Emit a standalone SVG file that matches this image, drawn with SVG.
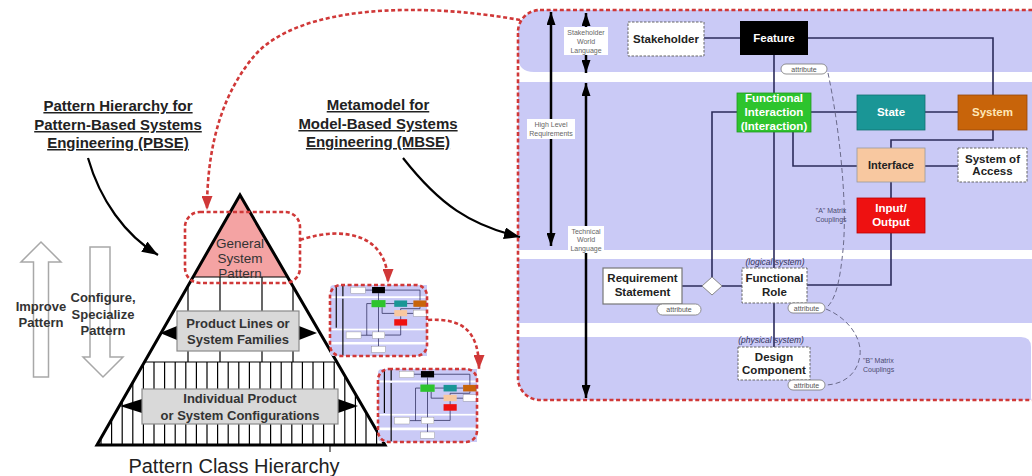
<svg xmlns="http://www.w3.org/2000/svg" width="1032" height="476" viewBox="0 0 1032 476">
<style>
text{font-family:"Liberation Sans",Arial,sans-serif}
.ttl{font-size:15px;font-weight:bold;fill:#222;text-anchor:middle;text-decoration:underline}
.nb{font-size:11.5px;font-weight:bold;text-anchor:middle;fill:#222}
.nw{font-size:11.5px;font-weight:bold;text-anchor:middle;fill:#fff}
.ax{font-size:7px;fill:#666;text-anchor:middle}
.pt{font-size:7px;fill:#555;text-anchor:middle}
.cp{font-size:7px;fill:#4a4a70}
.it{font-size:8.5px;font-style:italic;fill:#33335a;text-anchor:middle}
.pb{font-size:13px;font-weight:bold;fill:#333;text-anchor:middle}
.conn{stroke:#2b2b5a;stroke-width:1.6;fill:none}
.cpl{stroke:#6a6a8a;stroke-width:1;fill:none;stroke-dasharray:5 3}
.rd{stroke:#d03838;stroke-width:2.6;fill:none;stroke-dasharray:4 2.6}
.band{fill:#cacaf6}
.pill{fill:#fff;stroke:#777;stroke-width:0.8}
.dash{fill:#fff;stroke:#666;stroke-width:1;stroke-dasharray:2.5 1.5}
.axl{stroke:#000;stroke-width:2.5;fill:none}
.hol{fill:#fff;stroke:#a8a8a8;stroke-width:1.5}
.gbox{fill:#d9d9d9;stroke:#8a8a8a;stroke-width:1.2}
</style>
<defs>
<marker id="ak" viewBox="0 0 10 10" refX="10" refY="5" markerWidth="13" markerHeight="9" markerUnits="userSpaceOnUse" orient="auto-start-reverse" preserveAspectRatio="none"><path d="M0,0L10,5L0,10Z" fill="#000"/></marker>
<marker id="ab" viewBox="0 0 10 10" refX="10" refY="5" markerWidth="16" markerHeight="12" markerUnits="userSpaceOnUse" orient="auto" preserveAspectRatio="none"><path d="M0,0L10,5L0,10Z" fill="#000"/></marker>
<marker id="ar" viewBox="0 0 10 10" refX="10" refY="5" markerWidth="14" markerHeight="11" markerUnits="userSpaceOnUse" orient="auto" preserveAspectRatio="none"><path d="M0,0L10,5L0,10Z" fill="#d03838"/></marker>
<clipPath id="pc"><rect x="518" y="10" width="540" height="390" rx="22"/></clipPath>
<clipPath id="pyr"><polygon points="240,195 97,445 385,445"/></clipPath>
<g id="mini">
<rect x="518" y="10" width="512" height="390" rx="22" fill="#fff"/>
<path d="M540,10H1030V72H518V32Q518,10 540,10Z" class="band"/>
<rect x="518" y="82" width="512" height="168" class="band"/>
<rect x="518" y="259" width="512" height="64" class="band"/>
<path d="M518,337H1030V400H540Q518,400 518,378Z" class="band"/>
<path d="M704,38H993V95M774,55V347M811,112H958M993,130V140H891V233M793,132V166H958M891,233V285H807M737,112H712V286M682,286H742" stroke="#2b2b5a" stroke-width="4" fill="none"/>
<path d="M551,15V245M586,15V72M586,85V396" stroke="#000" stroke-width="6"/>
<rect x="628" y="22" width="76" height="34" fill="#fff" stroke="#888" stroke-width="2"/>
<rect x="740" y="21" width="68" height="34" fill="#000"/>
<rect x="737" y="93" width="74" height="39" fill="#2dc42d"/>
<rect x="857" y="95" width="68" height="35" fill="#1a9696"/>
<rect x="958" y="95" width="69" height="35" fill="#c8640a"/>
<rect x="857" y="148" width="68" height="34" fill="#f8c8a0"/>
<rect x="958" y="148" width="69" height="34" fill="#fff" stroke="#888" stroke-width="2"/>
<rect x="857" y="198" width="68" height="35" fill="#ee1111"/>
<rect x="603" y="268" width="79" height="36" fill="#fff" stroke="#888" stroke-width="2"/>
<rect x="742" y="268" width="65" height="35" fill="#fff" stroke="#888" stroke-width="2"/>
<rect x="738" y="347" width="72" height="33" fill="#fff" stroke="#888" stroke-width="2"/>
</g>
</defs>

<!-- Left titles -->
<g id="title-pbse">
<text class="ttl" x="118" y="111">Pattern Hierarchy for</text>
<text class="ttl" x="118" y="130">Pattern-Based Systems</text>
<text class="ttl" x="118" y="148">Engineering (PBSE)</text>
</g>
<g id="title-mbse">
<text class="ttl" x="378" y="110">Metamodel for</text>
<text class="ttl" x="378" y="129">Model-Based Systems</text>
<text class="ttl" x="378" y="147">Engineering (MBSE)</text>
</g>

<!-- Hollow arrows -->
<g id="improve-pattern">
<polygon class="hol" points="33.5,377 33.5,262 21,262 41,242 61,262 48.5,262 48.5,377"/>
<text class="pb" x="41" y="311">Improve</text>
<text class="pb" x="41" y="327">Pattern</text>
</g>
<g id="configure-pattern">
<polygon class="hol" points="90,247 110,247 110,357 123,357 103,377 83,357 90,357"/>
<text class="pb" x="103" y="302">Configure,</text>
<text class="pb" x="103" y="319">Specialize</text>
<text class="pb" x="103" y="335">Pattern</text>
</g>

<!-- Pyramid -->
<g id="pyramid">
<polygon points="240,195 193,277 287,277" fill="#f4a3a3"/>
<g clip-path="url(#pyr)" stroke="#000" stroke-width="1.2" fill="none">
<path d="M90,277H390M90,362H390"/>
<path d="M188,277V362M220,277V362M262,277V362M293,277V362"/>
<path d="M101,362V445M111.6,362V445M122.2,362V445M132.8,362V445M143.4,362V445M154,362V445M164.6,362V445M175.2,362V445M185.8,362V445M196.4,362V445M207,362V445M217.6,362V445M228.2,362V445M238.8,362V445M249.4,362V445M260,362V445M270.6,362V445M281.2,362V445M291.8,362V445M302.4,362V445M313,362V445M323.6,362V445M334.2,362V445M344.8,362V445M355.4,362V445M366,362V445M376.6,362V445"/>
</g>
<polygon points="240,195 97,445 385,445" fill="none" stroke="#000" stroke-width="3" stroke-linejoin="miter"/>
<line x1="330" y1="445" x2="330" y2="452" stroke="#000" stroke-width="1"/>
</g>
<g id="general-system-pattern">
<text x="240" y="248" font-size="13.5" fill="#333" text-anchor="middle">General</text>
<text x="240" y="263" font-size="13.5" fill="#333" text-anchor="middle">System</text>
<text x="240" y="278" font-size="13.5" fill="#333" text-anchor="middle">Pattern</text>
</g>
<g id="product-lines">
<polygon points="177,326 177,340 160,333" fill="#000"/>
<polygon points="299,326 299,340 317,333" fill="#000"/>
<rect class="gbox" x="177" y="311" width="122" height="40"/>
<text class="pb" x="238" y="328">Product Lines or</text>
<text class="pb" x="238" y="344">System Families</text>
</g>
<g id="individual-product">
<polygon points="142,399 142,413 120,406" fill="#000"/>
<polygon points="338,399 338,413 358,406" fill="#000"/>
<rect class="gbox" x="142" y="389" width="196" height="35"/>
<text class="pb" x="240" y="403">Individual Product</text>
<text class="pb" x="240" y="420">or System Configurations</text>
</g>
<text id="pyramid-caption" x="234" y="473" font-size="20" fill="#222" text-anchor="middle">Pattern Class Hierarchy</text>

<!-- Red dashed highlight and thumbnails -->
<rect id="gsp-highlight" class="rd" x="185" y="212" width="115" height="71" rx="15"/>
<g id="thumb-1">
<use href="#mini" transform="translate(330,285) scale(0.1895,0.182) translate(-518,-10)"/>
<rect class="rd" x="330" y="285" width="97" height="71" rx="11"/>
</g>
<g id="thumb-2">
<use href="#mini" transform="translate(378,369) scale(0.1934,0.187) translate(-518,-10)"/>
<rect class="rd" x="378" y="369" width="99" height="73" rx="11"/>
</g>

<!-- Big MBSE panel -->
<g id="mbse-panel">
<g clip-path="url(#pc)">
<rect x="518" y="10" width="540" height="390" fill="#fff"/>
<path d="M518,10H1040V72H534Q518,72 518,56Z" class="band"/>
<rect x="518" y="82" width="522" height="168" class="band"/>
<rect x="518" y="259" width="522" height="64" class="band"/>
<path d="M518,337H1021Q1031,337 1031,347V410H518Z" class="band"/>
</g>
<rect class="rd" x="518" y="10" width="540" height="390" rx="22"/>
</g>

<!-- Connectors -->
<g id="connectors">
<path class="rd" d="M520,20C420,2 300,5 255,55C225,90 207,140 207,210" marker-end="url(#ar)"/>
<path class="rd" d="M300,240C345,225 388,235 388,283" marker-end="url(#ar)"/>
<path class="rd" d="M428,320C462,318 479,330 479,369" marker-end="url(#ar)"/>
<path d="M88,158C100,200 125,235 158,255" stroke="#000" stroke-width="2.2" fill="none" marker-end="url(#ab)"/>
<path d="M403,158C440,205 470,225 520,237" stroke="#000" stroke-width="2.2" fill="none" marker-end="url(#ab)"/>
<path class="conn" d="M704,38H740"/>
<path class="conn" d="M808,38H993V95"/>
<path class="conn" d="M774,55V268"/>
<path class="conn" d="M811,112H857"/>
<path class="conn" d="M925,112H958"/>
<path class="conn" d="M993,130V140H891V148"/>
<path class="conn" d="M793,132V166H857"/>
<path class="conn" d="M925,166H958"/>
<path class="conn" d="M891,182V198"/>
<path class="conn" d="M891,233V285H807"/>
<path class="conn" d="M737,112H712V277"/>
<path class="conn" d="M682,286H742"/>
<path class="conn" d="M774,303V347"/>
<path class="cpl" d="M828,73C838,120 848,200 843,250C840,280 836,300 826,308"/>
<path class="cpl" d="M826,309C848,318 862,338 860,355C858,372 846,384 826,385"/>
</g>

<!-- Axis arrows -->
<g id="axis-high-level">
<path class="axl" d="M551,12V246" marker-start="url(#ak)" marker-end="url(#ak)"/>
<rect x="527" y="119" width="48" height="20" fill="#fff"/>
<text class="ax" x="551" y="127">High Level</text>
<text class="ax" x="551" y="136">Requirements</text>
</g>
<g id="axis-stakeholder">
<path class="axl" d="M586,13V73" marker-start="url(#ak)" marker-end="url(#ak)"/>
<rect x="564" y="27" width="44" height="28" fill="#fff"/>
<text class="ax" x="586" y="35">Stakeholder</text>
<text class="ax" x="586" y="44">World</text>
<text class="ax" x="586" y="53">Language</text>
</g>
<g id="axis-technical">
<path class="axl" d="M586,83V398" marker-start="url(#ak)" marker-end="url(#ak)"/>
<rect x="568" y="226" width="36" height="27" fill="#fff"/>
<text class="ax" x="586" y="234">Technical</text>
<text class="ax" x="586" y="242">World</text>
<text class="ax" x="586" y="251">Language</text>
</g>

<!-- Nodes -->
<g id="node-stakeholder">
<rect class="dash" x="628" y="22" width="76" height="34"/>
<text class="nb" x="666" y="43">Stakeholder</text>
</g>
<g id="node-feature">
<rect x="740" y="21" width="68" height="34" fill="#000"/>
<text class="nw" x="774" y="42">Feature</text>
<rect class="pill" x="781" y="64" width="46" height="10" rx="5"/>
<text class="pt" x="804" y="71.5">attribute</text>
</g>
<g id="node-functional-interaction">
<rect x="737" y="93" width="74" height="39" fill="#2dc42d" stroke="#229922" stroke-width="0.8"/>
<text class="nw" x="774" y="102">Functional</text>
<text class="nw" x="774" y="116">Interaction</text>
<text class="nw" x="774" y="130">(Interaction)</text>
</g>
<g id="node-state">
<rect x="857" y="95" width="68" height="35" fill="#1a9696" stroke="#137070" stroke-width="0.8"/>
<text class="nw" x="891" y="116">State</text>
</g>
<g id="node-system">
<rect x="958" y="95" width="69" height="35" fill="#c8640a" stroke="#94480a" stroke-width="0.8"/>
<text class="nw" x="992.5" y="116" fill="#ffe8b8" style="fill:#ffe8b8">System</text>
</g>
<g id="node-interface">
<rect x="857" y="148" width="68" height="34" fill="#f8c8a0" stroke="#999" stroke-width="0.8"/>
<text class="nb" x="891" y="169" font-size="11" style="font-size:11px">Interface</text>
</g>
<g id="node-system-of-access">
<rect class="dash" x="958" y="148" width="69" height="34"/>
<text class="nb" x="992.5" y="163">System of</text>
<text class="nb" x="992.5" y="175">Access</text>
</g>
<g id="node-input-output">
<rect x="857" y="198" width="68" height="35" fill="#ee1111" stroke="#b00" stroke-width="0.8"/>
<text class="nw" x="891" y="212">Input/</text>
<text class="nw" x="891" y="226">Output</text>
</g>
<g id="junction">
<polygon points="712,277 722,286 712,295 702,286" fill="#fff" stroke="#888" stroke-width="1"/>
</g>
<g id="node-requirement-statement">
<rect x="603" y="268" width="79" height="36" fill="#fff" stroke="#777" stroke-width="1.2"/>
<text class="nb" x="642.5" y="282">Requirement</text>
<text class="nb" x="642.5" y="296">Statement</text>
<rect class="pill" x="657" y="304" width="44" height="11" rx="5.5"/>
<text class="pt" x="679" y="312">attribute</text>
</g>
<g id="node-functional-role">
<text class="it" x="775" y="265">(logical system)</text>
<rect class="dash" x="742" y="268" width="65" height="35"/>
<text class="nb" x="774.5" y="282">Functional</text>
<text class="nb" x="774.5" y="296">Role</text>
<rect class="pill" x="788" y="303" width="37" height="10" rx="5"/>
<text class="pt" x="806.5" y="310.5">attribute</text>
</g>
<g id="node-design-component">
<text class="it" x="771" y="343">(physical system)</text>
<rect class="dash" x="738" y="347" width="72" height="33"/>
<text class="nb" x="774" y="361">Design</text>
<text class="nb" x="774" y="374">Component</text>
<rect class="pill" x="788" y="380" width="37" height="10" rx="5"/>
<text class="pt" x="806.5" y="387.5">attribute</text>
</g>
<g id="label-a-matrix">
<text class="cp" x="831" y="213" text-anchor="middle">"A" Matrix</text>
<text class="cp" x="831" y="222" text-anchor="middle">Couplings</text>
</g>
<g id="label-b-matrix">
<text class="cp" x="863" y="363">"B" Matrix</text>
<text class="cp" x="863" y="372">Couplings</text>
</g>
</svg>
